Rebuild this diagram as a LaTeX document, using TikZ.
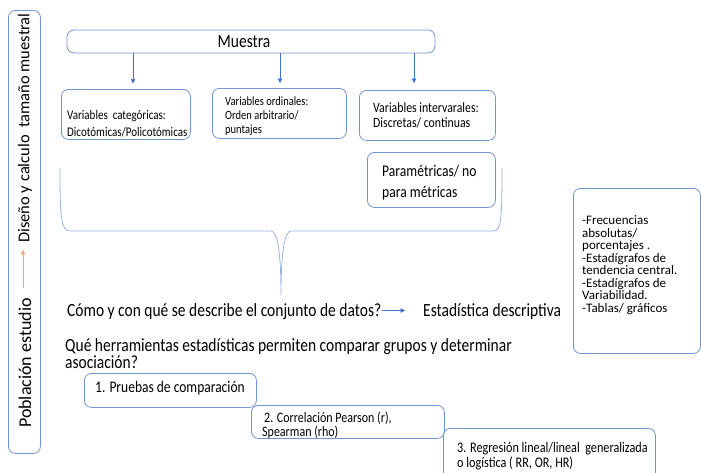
\documentclass[tikz,border=0pt]{standalone}
\usepackage{fontspec}
\setmainfont{Carlito}
\usetikzlibrary{arrows.meta,calc}
\definecolor{bx}{HTML}{7394D2}
\definecolor{ar}{HTML}{4472C4}
\definecolor{brc}{HTML}{9DB3E0}
\definecolor{orng}{HTML}{F2A474}
\begin{document}
\begin{tikzpicture}[x=1pt,y=-1pt,
  vbox/.style={draw=bx, line width=0.8pt, rounded corners=7pt, anchor=north west, inner sep=0pt},
  txt/.style={inner sep=0pt, anchor=west, align=left},
  tall/.style={yscale=1.2},
  arr/.style={draw=ar, line width=0.7pt, -{Triangle[length=4.5pt,width=4.5pt]}}]
\useasboundingbox (0,0) rectangle (701,472);
% left vertical box
\node[vbox, minimum width=32pt, minimum height=443pt] (lb) at (8,10) {};
\node[txt, rotate=90, anchor=center, font=\fontsize{18}{20}\selectfont] (pob) at (25,363) {Población estudio};
\node[txt, rotate=90, anchor=center, font=\fontsize{16.5}{20}\selectfont] (dis) at (25,128) {Diseño y calculo~ tamaño muestral};
\draw[draw=orng, line width=0.7pt, -{Triangle[length=4.5pt,width=4.5pt]}, shorten <=9.5pt, shorten >=7pt] ([xshift=-2pt]pob.east) -- ([xshift=-2pt]dis.west);
% Muestra
\node[vbox, anchor=center, minimum width=368pt, minimum height=23pt] (m) at (251,41.5) {};
\node[txt, tall, anchor=center, font=\fontsize{15.5}{18}\selectfont] (mt) at (244,41.5) {Muestra};
% variable boxes
\node[vbox, minimum width=129pt, minimum height=50pt] (b1) at (61,89) {};
\node[txt, tall, font=\fontsize{11}{14.2}\selectfont] (t1) at (67,123.5) {Variables~ categóricas:\\Dicotómicas/Policotómicas};
\node[vbox, minimum width=134pt, minimum height=50pt] (b2) at (212,88) {};
\node[txt, tall, font=\fontsize{10.5}{11.7}\selectfont] (t2) at (225,116) {Variables ordinales:\\Orden arbitrario/\\puntajes};
\node[vbox, minimum width=136pt, minimum height=50pt] (b3) at (359,90) {};
\node[txt, tall, font=\fontsize{11.8}{12.5}\selectfont] (t3) at (373,115.5) {Variables intervarales:\\Discretas/ continuas};
\node[vbox, minimum width=128pt, minimum height=55pt] (b4) at (367,152) {};
\node[txt, tall, font=\fontsize{13.6}{17.5}\selectfont] (t4) at (382,182.5) {Paramétricas/ no\\para métricas};
\coordinate (x1) at (133,0);
\coordinate (x2) at (280,0);
\coordinate (x3) at (414,0);
\draw[arr, shorten >=5.5pt] (x1 |- m.south) -- (x1 |- b1.north);
\draw[arr, shorten >=5pt] (x2 |- m.south) -- (x2 |- b2.north);
\draw[arr, shorten >=7pt] (x3 |- m.south) -- (x3 |- b3.north);
% brace
\draw[draw=brc, line width=0.8pt] (60,168) .. controls (60,218) and (61,231) .. (70,231) -- (271,231)
  .. controls (277,231) and (281,250) .. (281,295)
  .. controls (281,250) and (285,231) .. (291,231) -- (494,231)
  .. controls (501,231) and (502,218) .. (502,168);
% right box
\node[vbox, minimum width=127pt, minimum height=165pt] (rb) at (573,188) {};
\node[txt, font=\fontsize{13}{12.5}\selectfont] (rt) at (582,265) {-Frecuencias\\absolutas/\\porcentajes .\\-Estadígrafos de\\tendencia central.\\-Estadígrafos de\\Variabilidad.\\-Tablas/ gráficos};
% questions
\node[txt, tall, font=\fontsize{15.5}{17}\selectfont] (q1) at (67,312) {Cómo y con qué se describe el conjunto de datos?};
\node[txt, tall, font=\fontsize{15.5}{17}\selectfont] (ed) at (423,312) {Estadística descriptiva};
\draw[arr, shorten >=18pt] ([yshift=1.5pt]q1.east) -- ([yshift=1.5pt]ed.west);
\node[txt, tall, font=\fontsize{15.5}{14.2}\selectfont] (q2) at (65,353.5) {Qué herramientas estadísticas permiten comparar grupos y determinar\\asociación?};
% bottom boxes
\node[vbox, minimum width=172pt, minimum height=34pt] (b5) at (84,373) {};
\node[txt, tall, font=\fontsize{13.5}{16}\selectfont] (t5) at (95,388) {1. Pruebas de comparación};
\node[vbox, minimum width=193pt, minimum height=33pt] (b6) at (251,405) {};
\node[txt, tall, font=\fontsize{12}{11.7}\selectfont] (t6) at (262,425) {\hspace*{2pt}2. Correlación Pearson (r),\\Spearman (rho)};
\node[vbox, minimum width=212pt, minimum height=55pt] (b7) at (443,428) {};
\node[txt, tall, font=\fontsize{12.2}{12}\selectfont] (t7) at (457,456) {3. Regresión lineal/lineal~ generalizada\\o logística ( RR, OR, HR)};
\end{tikzpicture}
\end{document}
